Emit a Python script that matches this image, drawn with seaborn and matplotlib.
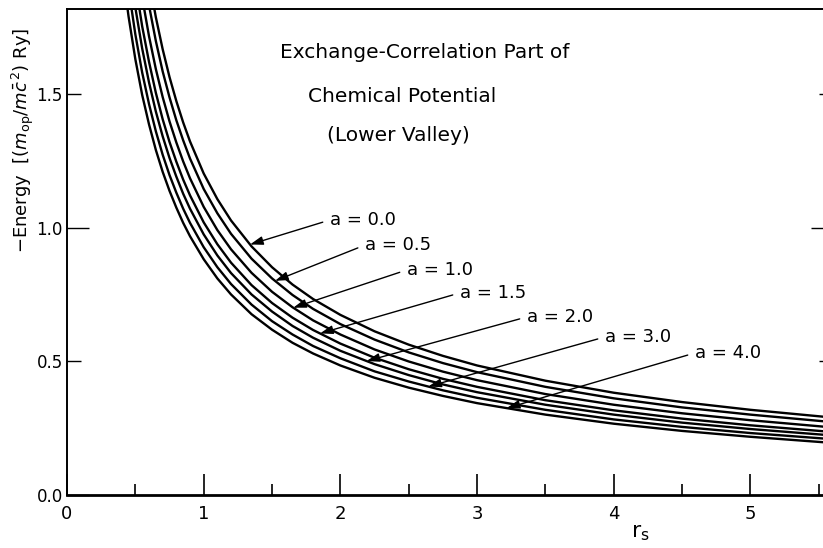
import numpy as np
import pandas as pd
import matplotlib
matplotlib.use("Agg")
import matplotlib.pyplot as plt
import seaborn as sns

# ---------------- data ----------------
rs = [0.42, 0.45, 0.5, 0.55, 0.6, 0.65, 0.7, 0.75, 0.8, 0.85, 0.9, 1.0, 1.1, 1.2,
      1.35, 1.5, 1.65, 1.8, 2.0, 2.25, 2.5, 2.75, 3.0, 3.5, 4.0, 4.5, 5.0, 5.6]

e_a00 = [2.714, 2.540, 2.296, 2.096, 1.930, 1.789, 1.669, 1.565, 1.475, 1.395,
         1.324, 1.204, 1.108, 1.028, 0.931, 0.853, 0.788, 0.734, 0.6745, 0.613,
         0.563, 0.521, 0.485, 0.428, 0.383, 0.348, 0.319, 0.290]
e_a05 = [2.569, 2.406, 2.176, 1.989, 1.833, 1.700, 1.586, 1.489, 1.403, 1.328,
         1.260, 1.146, 1.055, 0.978, 0.885, 0.811, 0.749, 0.697, 0.640, 0.582,
         0.534, 0.494, 0.460, 0.405, 0.362, 0.328, 0.301, 0.273]
e_a10 = [2.400, 2.249, 2.037, 1.863, 1.718, 1.595, 1.490, 1.399, 1.320, 1.249,
         1.186, 1.079, 0.992, 0.920, 0.832, 0.761, 0.703, 0.654, 0.601, 0.545,
         0.500, 0.462, 0.430, 0.378, 0.338, 0.306, 0.280, 0.253]
e_a15 = [2.255, 2.114, 1.918, 1.755, 1.622, 1.506, 1.407, 1.322, 1.248, 1.181,
         1.122, 1.021, 0.939, 0.870, 0.786, 0.719, 0.664, 0.618, 0.567, 0.514,
         0.471, 0.435, 0.405, 0.355, 0.317, 0.286, 0.261, 0.236]
e_a20 = [2.143, 2.010, 1.825, 1.672, 1.545, 1.436, 1.343, 1.262, 1.192, 1.128,
         1.072, 0.976, 0.897, 0.831, 0.751, 0.687, 0.633, 0.589, 0.540, 0.490,
         0.449, 0.414, 0.385, 0.338, 0.301, 0.271, 0.247, 0.223]
e_a30 = [2.021, 1.898, 1.725, 1.582, 1.464, 1.362, 1.274, 1.198, 1.132, 1.072,
         1.019, 0.928, 0.853, 0.790, 0.713, 0.651, 0.601, 0.558, 0.512, 0.463,
         0.425, 0.392, 0.364, 0.319, 0.283, 0.255, 0.232, 0.209]
e_a40 = [1.910, 1.793, 1.632, 1.498, 1.388, 1.292, 1.210, 1.139, 1.076, 1.019,
         0.969, 0.883, 0.811, 0.751, 0.677, 0.619, 0.570, 0.530, 0.485, 0.439,
         0.402, 0.371, 0.344, 0.301, 0.267, 0.240, 0.218, 0.195]

a_values = [0.0, 0.5, 1.0, 1.5, 2.0, 3.0, 4.0]
a_labels = ["a = 0.0", "a = 0.5", "a = 1.0", "a = 1.5", "a = 2.0", "a = 3.0", "a = 4.0"]
curves = [e_a00, e_a05, e_a10, e_a15, e_a20, e_a30, e_a40]

x_ticks = [0, 1, 2, 3, 4, 5]
x_ticklabels = ["0", "1", "2", "3", "4", "5"]
y_major = [0.0, 1.0]
y_major_labels = ["0.0", "1.0"]
y_minor = [0.5, 1.5]
y_minor_labels = ["0.5", "1.5"]

title_lines = ["Exchange-Correlation Part of", "Chemical Potential", "(Lower Valley)"]

# ---------------- layout constants ----------------
tip_rs = [1.339, 1.522, 1.655, 1.851, 2.192, 2.643, 3.217]
label_xy = [(1.924, 1.030), (2.180, 0.936), (2.487, 0.843), (2.875, 0.757),
            (3.365, 0.667), (3.936, 0.592), (4.594, 0.532)]

df = pd.concat(
    [pd.DataFrame({"rs": rs, "E": c, "a": a}) for a, c in zip(a_values, curves)],
    ignore_index=True,
)

sns.set_style("ticks")
plt.rcParams["font.family"] = ["DejaVu Sans"]
plt.rcParams["mathtext.fontset"] = "dejavusans"
for k in ["text.color", "axes.labelcolor", "xtick.color", "ytick.color", "axes.edgecolor"]:
    plt.rcParams[k] = "black"

W, H = 823, 548
fig = plt.figure(figsize=(W / 100, H / 100), dpi=100)
ax = fig.add_axes([67 / W, 53 / H, 765.5 / W, 486 / H])

sns.lineplot(data=df, x="rs", y="E", hue="a", units="a", estimator=None,
             sort=False, palette={a: "black" for a in a_values},
             linewidth=1.7, legend=False, ax=ax)

ax.set_xlim(0, 5.6)
ax.set_ylim(0, 1.82)

ax.set_xticks(x_ticks)
ax.set_xticklabels(x_ticklabels)
ax.set_xticks(np.arange(0.5, 5.6, 1.0), minor=True)
ax.set_yticks(y_major)
ax.set_yticklabels(y_major_labels)
ax.set_yticks(y_minor, minor=True)
ax.set_yticklabels(y_minor_labels, minor=True)

ax.tick_params(axis="x", which="major", direction="in", length=15, width=1.2,
               labelsize=13, pad=7, top=False)
ax.tick_params(axis="x", which="minor", direction="in", length=8, width=1.2, top=False)
ax.tick_params(axis="y", which="major", direction="in", length=16, width=1.0,
               labelsize=12, pad=3, right=True)
ax.tick_params(axis="y", which="minor", direction="in", length=10, width=1.0,
               labelsize=12, pad=3, right=True, labelleft=True)

for s in ax.spines.values():
    s.set_visible(True)
    s.set_color("black")
    s.set_linewidth(1.4)
ax.spines["bottom"].set_linewidth(2.0)

ax.set_xlabel("")
ax.set_ylabel("")

# title block
title_pos = [(425, 52), (402, 97), (398, 135)]
for txt, (px, py) in zip(title_lines, title_pos):
    fig.text(px / W, 1 - py / H, txt, ha="center", va="center", fontsize=14.5)

# leaders + labels
for lab, c, trs, (lx, ly) in zip(a_labels, curves, tip_rs, label_xy):
    ty = float(np.interp(trs, rs, c))
    ax.annotate(lab, xy=(trs, ty), xytext=(lx, ly), ha="left", va="center",
                fontsize=13,
                arrowprops=dict(arrowstyle="-|>,head_length=0.6,head_width=0.2",
                                color="black", lw=1.0, shrinkA=3, shrinkB=0,
                                relpos=(0, 0.5)))

# axis labels
fig.text(23 / W, 1 - 140 / H, r"$-$Energy  [($m_{\rm op}/m\bar{c}^{\,2}$) Ry]",
         rotation=90, ha="center", va="center", fontsize=13)
fig.text(640 / W, 1 - 533 / H, r"$\mathregular{r_s}$", ha="center", va="center",
         fontsize=16)

fig.savefig("out.png", dpi=100)
